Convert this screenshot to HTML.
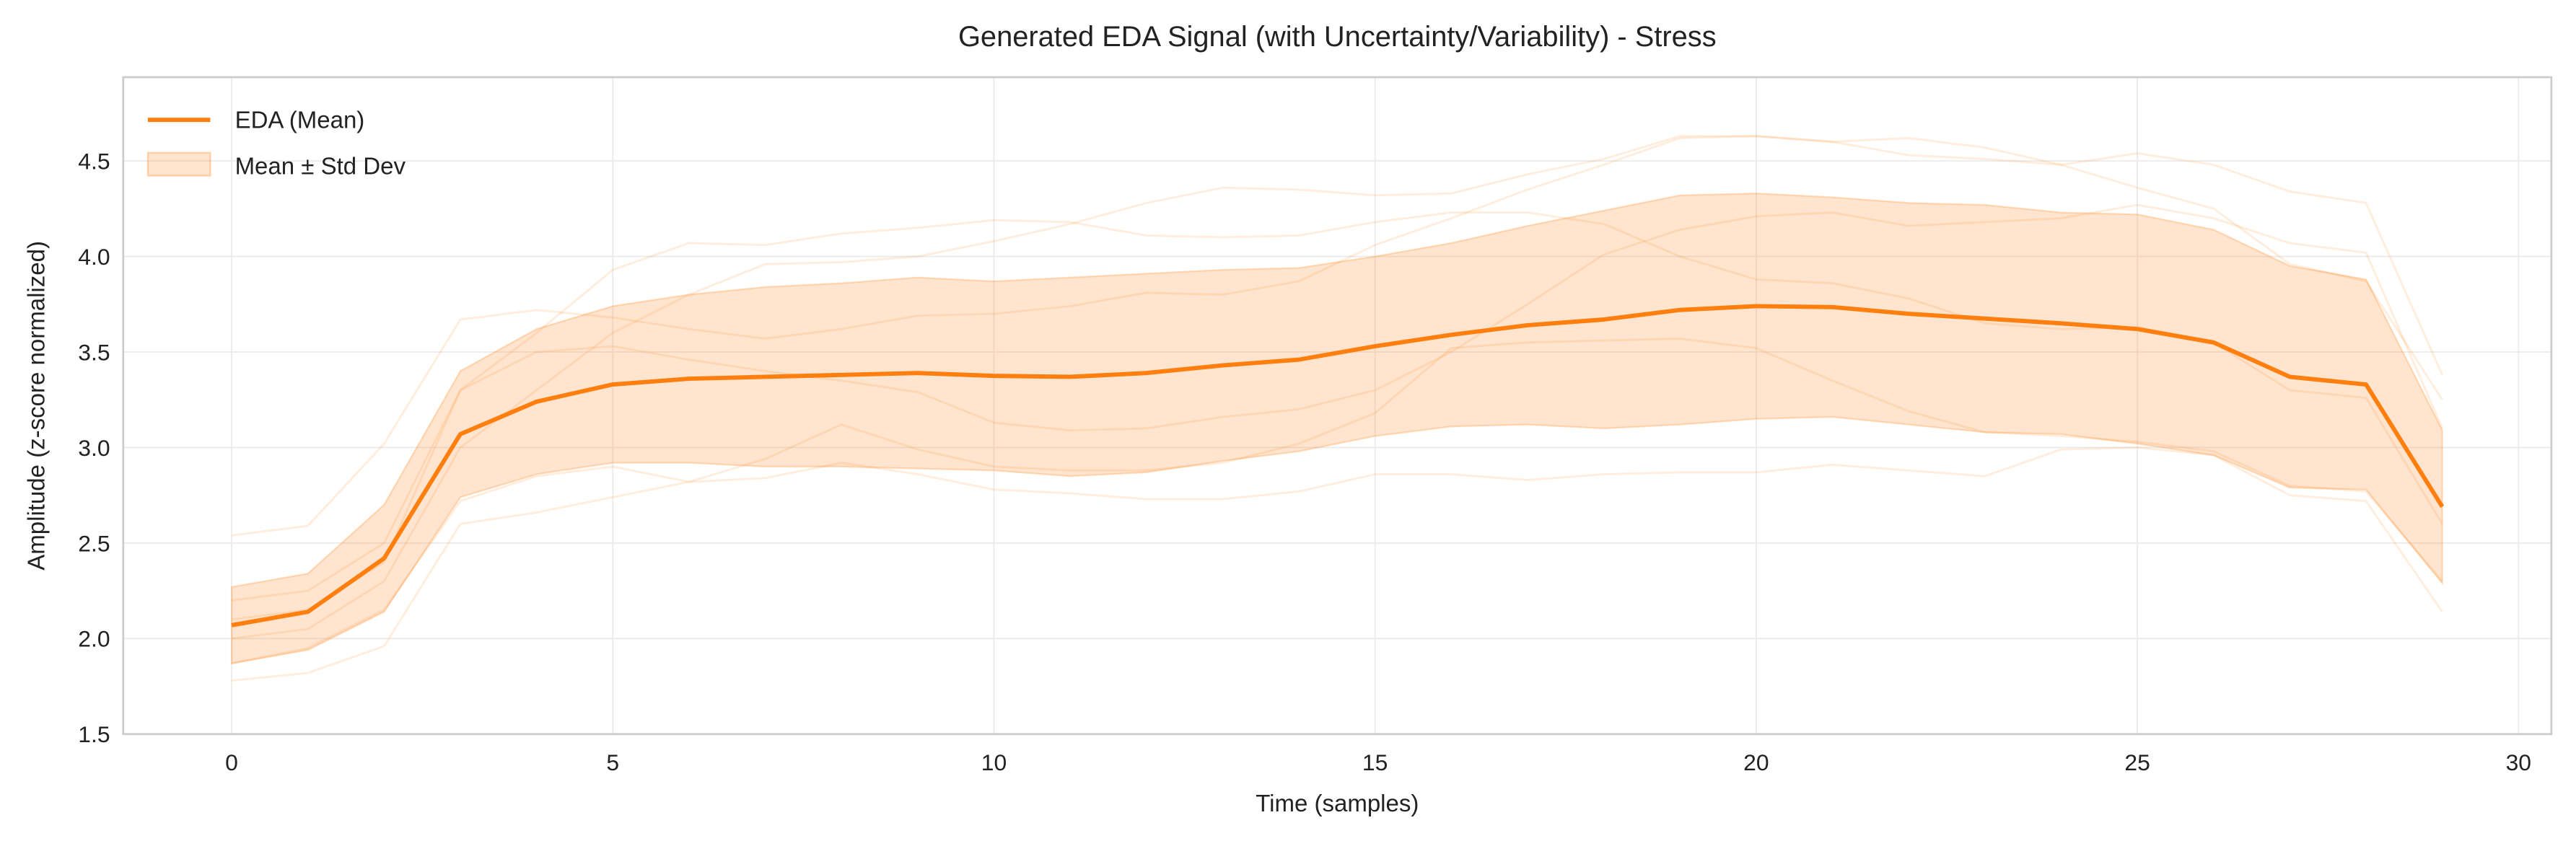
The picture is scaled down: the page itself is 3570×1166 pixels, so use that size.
<!DOCTYPE html>
<html><head><meta charset="utf-8"><style>
html,body{margin:0;padding:0;background:#fff;}
svg{display:block;font-family:"Liberation Sans","DejaVu Sans",sans-serif;}
</style></head><body>
<svg id="chart" width="3570" height="1166" viewBox="0 0 1568 512.1" preserveAspectRatio="none" xmlns="http://www.w3.org/2000/svg">
<text x="814" y="28" text-anchor="middle" font-size="17.5" fill="#222">Generated EDA Signal (with Uncertainty/Variability) - Stress</text>
<g id="grid"></g>
<g id="traces"></g>
<g id="band"></g>
<g id="meanline"></g>
<rect x="75" y="47" width="1478" height="400" fill="none" stroke="#ccc" stroke-width="1.2"/>
<g id="ticks"></g>
<text x="814" y="494" text-anchor="middle" font-size="14.5" fill="#222">Time (samples)</text>
<text transform="translate(27,247) rotate(-90)" text-anchor="middle" font-size="14.5" fill="#222">Amplitude (z-score normalized)</text>
<g>
<line x1="90" y1="73" x2="128" y2="73" stroke="#ff7f0e" stroke-width="2.6"/>
<text x="143" y="78" font-size="14.5" fill="#222">EDA (Mean)</text>
<rect x="90" y="93" width="38" height="14" fill="#ff7f0e" fill-opacity="0.2" stroke="#ff7f0e" stroke-opacity="0.3"/>
<text x="143" y="106" font-size="14.5" fill="#222">Mean ± Std Dev</text>
</g>
</svg>
<script>
const meanVals=[2.07,2.14,2.42,3.07,3.24,3.33,3.36,3.37,3.38,3.39,3.375,3.37,3.39,3.43,3.46,3.53,3.59,3.64,3.67,3.72,3.74,3.735,3.70,3.675,3.65,3.62,3.55,3.37,3.33,2.69];
const stdVals=[0.2,0.2,0.28,0.33,0.38,0.41,0.44,0.47,0.48,0.5,0.495,0.52,0.52,0.5,0.48,0.47,0.48,0.52,0.57,0.6,0.59,0.575,0.58,0.595,0.58,0.6,0.59,0.58,0.55,0.4];
const traceA=[2.2,2.25,2.5,3.3,3.6,3.93,4.07,4.06,4.12,4.15,4.19,4.18,4.11,4.10,4.11,4.18,4.23,4.23,4.17,4.0,3.88,3.86,3.78,3.65,3.62,3.63,3.55,3.30,3.26,2.6];
const traceB=[2.0,2.05,2.3,3.0,3.3,3.6,3.8,3.96,3.97,4.0,4.08,4.17,4.28,4.36,4.35,4.32,4.33,4.43,4.51,4.63,4.63,4.60,4.62,4.57,4.48,4.54,4.48,4.34,4.28,3.38];
const traceC=[1.78,1.82,1.96,2.6,2.66,2.74,2.82,2.84,2.92,2.86,2.78,2.76,2.73,2.73,2.77,2.86,2.86,2.83,2.86,2.87,2.87,2.91,2.88,2.85,2.99,3.0,2.96,2.75,2.72,2.14];
const traceD=[2.54,2.59,3.02,3.67,3.72,3.68,3.62,3.57,3.62,3.69,3.70,3.74,3.81,3.80,3.87,4.06,4.2,4.35,4.48,4.62,4.63,4.6,4.53,4.51,4.48,4.36,4.25,3.96,3.87,3.25];
const traceE=[1.87,1.95,2.15,2.72,2.85,2.9,2.82,2.94,3.12,2.99,2.9,2.88,2.88,2.92,3.02,3.18,3.52,3.55,3.56,3.57,3.52,3.35,3.19,3.08,3.06,3.03,2.98,2.8,2.77,2.3];
const traceF=[2.1,2.15,2.4,3.3,3.5,3.53,3.46,3.4,3.35,3.29,3.13,3.09,3.1,3.16,3.2,3.3,3.5,3.75,4.01,4.14,4.21,4.23,4.16,4.18,4.2,4.27,4.2,4.07,4.02,3.1];
const xTicks=[0,5,10,15,20,25,30];
const yTicks=[1.5,2.0,2.5,3.0,3.5,4.0,4.5];
const NS="http://www.w3.org/2000/svg";
const X=v=>141+v*(1533-141)/30;
const Y=v=>447-(v-1.5)*(447-98)/3;
function mk(tag,attrs,parent){const e=document.createElementNS(NS,tag);for(const k in attrs)e.setAttribute(k,attrs[k]);parent.appendChild(e);return e;}
const grid=document.getElementById('grid'),ticks=document.getElementById('ticks');
xTicks.forEach(t=>{
 const l=mk('line',{x1:X(t),x2:X(t),y1:47,y2:447,stroke:'#ebebeb','stroke-width':0.8},grid);
 
 
 const tx=mk('text',{x:X(t),y:469,'text-anchor':'middle','font-size':14,fill:'#222'},ticks);
 tx.textContent=t;
 
 
});
yTicks.forEach(t=>{
 const l=mk('line',{x1:75,x2:1553,y1:Y(t),y2:Y(t),stroke:'#ebebeb','stroke-width':0.8},grid);
 
 
 const tx=mk('text',{x:67,y:Y(t)+5,'text-anchor':'end','font-size':14,fill:'#222'},ticks);
 tx.textContent=t.toFixed(1);
 
 
});
const path=arr=>arr.map((v,i)=>(i?'L':'M')+X(i).toFixed(2)+','+Y(v).toFixed(2)).join('');
const tg=document.getElementById('traces');
[traceA,traceB,traceC,traceD,traceE,traceF].forEach(tr=>{
 const p=mk('path',{d:path(tr),fill:'none',stroke:'#ff7f0e','stroke-opacity':0.14,'stroke-width':1.3},tg);
 
 
});
const up=meanVals.map((m,i)=>m+stdVals[i]),lo=meanVals.map((m,i)=>m-stdVals[i]);
let d=path(up);
for(let i=lo.length-1;i>=0;i--)d+='L'+X(i).toFixed(2)+','+Y(lo[i]).toFixed(2);
d+='Z';
const band=mk('path',{d:d,fill:'#ff7f0e','fill-opacity':0.2,stroke:'#ff7f0e','stroke-opacity':0.25,'stroke-width':1},document.getElementById('band'));


const ml=mk('path',{d:path(meanVals),fill:'none',stroke:'#ff7f0e','stroke-width':2.6,'stroke-linejoin':'round'},document.getElementById('meanline'));


</script>
</body></html>
